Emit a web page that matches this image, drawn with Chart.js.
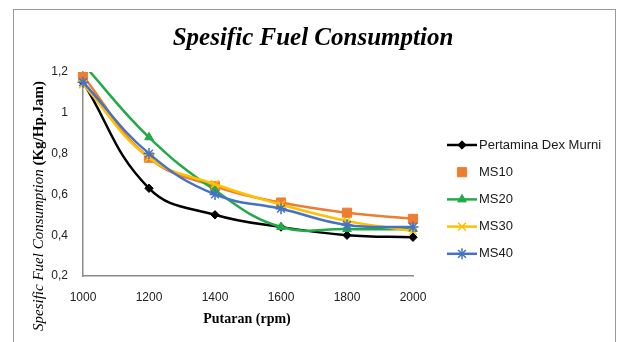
<!DOCTYPE html>
<html>
<head>
<meta charset="utf-8">
<script src="https://cdn.jsdelivr.net/npm/chart.js@4"></script>
<style>
  html, body { margin: 0; padding: 0; background: #fff; overflow: hidden; }
  #wrap { position: relative; width: 618px; height: 342px; }
  #frame { position: absolute; left: 13px; top: 9px; width: 603px; height: 400px; border: 1px solid #9a9a9a; box-sizing: border-box; }
  canvas { position: absolute; left: 0; top: 0; }
</style>
</head>
<body>
<div id="wrap">
  <div id="frame"></div>
  <canvas id="c" width="618" height="342"></canvas>
</div>
<script>
const categories = ['1000', '1200', '1400', '1600', '1800', '2000'];
const seriesNames = ['Pertamina Dex Murni', 'MS10', 'MS20', 'MS30', 'MS40'];
const pertaminaDex = [1.15, 0.63, 0.50, 0.44, 0.40, 0.39];
const ms10 = [1.18, 0.78, 0.64, 0.56, 0.51, 0.48];
const ms20 = [1.24, 0.88, 0.62, 0.44, 0.43, 0.43];
const ms30 = [1.14, 0.78, 0.65, 0.55, 0.47, 0.42];
const ms40 = [1.15, 0.80, 0.60, 0.53, 0.45, 0.44];
const chartTitle = 'Spesific Fuel Consumption';
const yTitleA = 'Spesific Fuel Consumption ';
const yTitleB = '(Kg/Hp.Jam)';
const xTitle = 'Putaran (rpm)';

const styles = [
  { color: '#000000', point: 'rectRot', r: 4.2, legendLine: true },
  { color: '#ED7D31', point: 'rect', r: 6.5, legendLine: false },
  { color: '#22AA4A', point: 'triangle', r: 5, legendLine: true },
  { color: '#FFC000', point: 'crossRot', r: 5.5, legendLine: true },
  { color: '#4472C4', point: 'star', r: 5.5, legendLine: true }
];
const values = [pertaminaDex, ms10, ms20, ms30, ms40];

const datasets = values.map((v, i) => ({
  label: seriesNames[i],
  data: v,
  borderColor: styles[i].color,
  backgroundColor: styles[i].color,
  pointBackgroundColor: styles[i].color,
  pointBorderColor: styles[i].color,
  pointStyle: styles[i].point,
  pointRadius: styles[i].r,
  pointBorderWidth: (styles[i].point === 'crossRot' || styles[i].point === 'star') ? 1.5 : 1,
  borderWidth: 2.5,
  tension: 0.42,
  fill: false,
  order: 4 - i
}));

const decor = {
  id: 'decor',
  afterDraw(chart) {
    const ctx = chart.ctx;
    ctx.save();
    // title
    ctx.fillStyle = '#000';
    ctx.font = 'italic bold 25px "Liberation Serif"';
    ctx.textAlign = 'center';
    ctx.textBaseline = 'alphabetic';
    ctx.fillText(chartTitle, 313, 45);
    // x title
    ctx.font = 'bold 14px "Liberation Serif"';
    ctx.fillText(xTitle, 247, 323);
    // y title (rotated, mixed styles)
    const fA = 'italic 15px "Liberation Serif"';
    const fB = 'bold 15px "Liberation Serif"';
    ctx.font = fA; const wA = ctx.measureText(yTitleA).width;
    ctx.font = fB; const wB = ctx.measureText(yTitleB).width;
    ctx.translate(43, 206);
    ctx.rotate(-Math.PI / 2);
    ctx.textAlign = 'left';
    ctx.font = fA; ctx.fillText(yTitleA, -(wA + wB) / 2, 0);
    ctx.font = fB; ctx.fillText(yTitleB, -(wA + wB) / 2 + wA, 0);
    ctx.restore();
    // legend
    ctx.save();
    chart.data.datasets.forEach((ds, i) => {
      const y = 145 + i * 27.2;
      if (styles[i].legendLine) {
        ctx.strokeStyle = ds.borderColor;
        ctx.lineWidth = 2.5;
        ctx.beginPath(); ctx.moveTo(447, y); ctx.lineTo(477, y); ctx.stroke();
      }
      ctx.fillStyle = ds.backgroundColor;
      ctx.strokeStyle = ds.borderColor;
      ctx.lineWidth = ds.pointBorderWidth;
      Chart.helpers.drawPoint(ctx, { pointStyle: ds.pointStyle, radius: ds.pointRadius, rotation: 0, borderWidth: ds.pointBorderWidth }, 462, y);
      ctx.fillStyle = '#1a1a1a';
      ctx.font = '13px "Liberation Sans"';
      ctx.textAlign = 'left';
      ctx.textBaseline = 'middle';
      ctx.fillText(ds.label, 479, y);
    });
    ctx.restore();
  }
};

new Chart(document.getElementById('c'), {
  type: 'line',
  data: { labels: categories, datasets },
  options: {
    responsive: false,
    animation: false,
    devicePixelRatio: 1,
    layout: { padding: { left: 0, right: 205, top: 72, bottom: 0 } },
    plugins: { legend: { display: false }, title: { display: false }, tooltip: { enabled: false } },
    scales: {
      x: {
        type: 'category',
        offset: false,
        grid: { display: false, drawTicks: false },
        border: { display: true, color: '#8c8c8c', width: 1.5 },
        ticks: { padding: 14, color: '#222', font: { family: 'Liberation Sans', size: 12 }, maxRotation: 0 },
        afterFit(s) { s.height = 66; }
      },
      y: {
        min: 0.2, max: 1.2,
        grid: { display: false, drawTicks: false },
        border: { display: true, color: '#8c8c8c', width: 1.5 },
        ticks: {
          stepSize: 0.2, padding: 15, color: '#222',
          font: { family: 'Liberation Sans', size: 12 },
          callback: v => String(Number(v.toFixed(1))).replace('.', ',')
        },
        afterFit(s) { s.width = 83; }
      }
    }
  },
  plugins: [decor]
});
</script>
</body>
</html>
